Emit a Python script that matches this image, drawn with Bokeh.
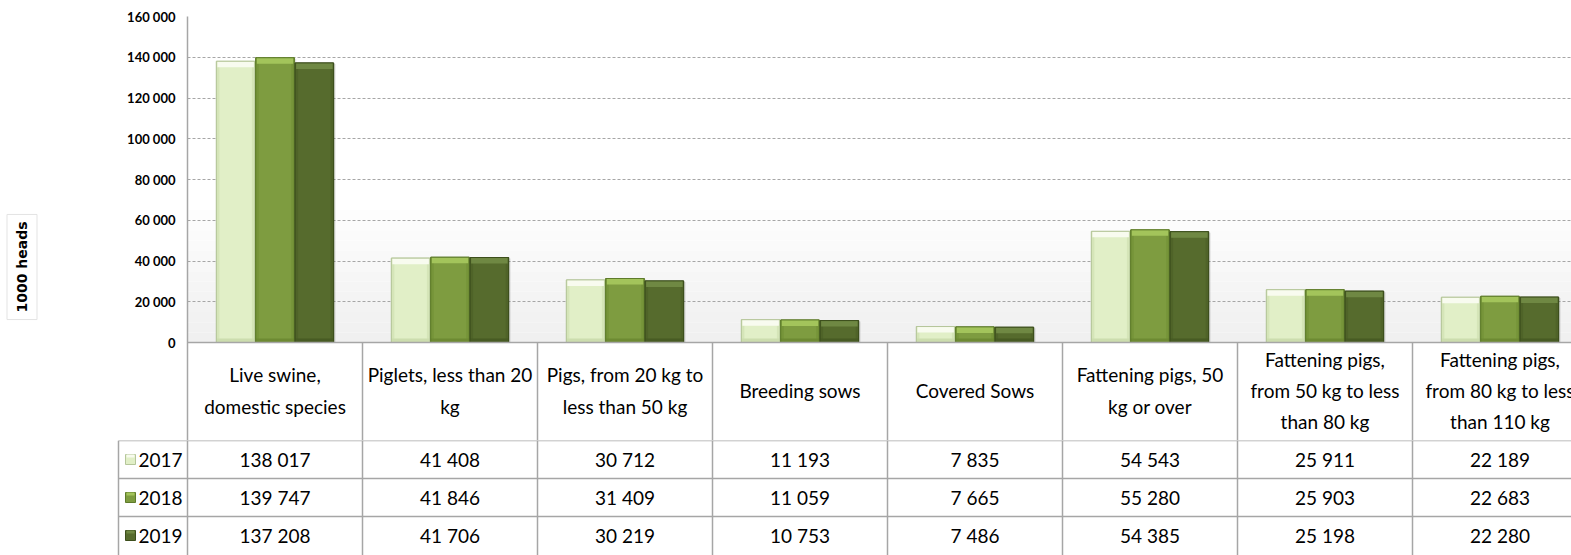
from math import pi
from bokeh.plotting import figure
from bokeh.layouts import column, row
from bokeh.models import FixedTicker, Range1d, Label, ColumnDataSource
from bokeh.core.properties import value
from bokeh.embed import file_html
from bokeh.resources import INLINE

# ---------------- data ----------------
categories = [
    "Live swine,\ndomestic species",
    "Piglets, less than 20\nkg",
    "Pigs, from 20 kg to\nless than 50 kg",
    "Breeding sows",
    "Covered Sows",
    "Fattening pigs, 50\nkg or over",
    "Fattening pigs,\nfrom 50 kg to less\nthan 80 kg",
    "Fattening pigs,\nfrom 80 kg to less\nthan 110 kg",
]
years = ["2017", "2018", "2019"]
v2017 = [138017, 41408, 30712, 11193, 7835, 54543, 25911, 22189]
v2018 = [139747, 41846, 31409, 11059, 7665, 55280, 25903, 22683]
v2019 = [137208, 41706, 30219, 10753, 7486, 54385, 25198, 22280]
y_ticks = [0, 20000, 40000, 60000, 80000, 100000, 120000, 140000, 160000]
y_axis_label = "1000 heads"

# ---------------- layout constants ----------------
FONT = "Lato"
TFS = "19px"
W_TOTAL = 1571
H_TOTAL = 555
W_LAB = 40
W_FIG = W_TOTAL - W_LAB
CAT_PX = 175.0
LEFT_PX = 187 - W_LAB
TOP_PX = 16
PLOT_PX = 326
HEADER_PX = 98
TABLE_PX = H_TOTAL - (TOP_PX + PLOT_PX + HEADER_PX)
ROW_PX = 38
YMAX = 160000
PX_Y = YMAX / PLOT_PX
PX_X = 1.0 / CAT_PX
X_END = (W_FIG - LEFT_PX) / CAT_PX
Y_START = -HEADER_PX * PX_Y
FRAME_BOTTOM = TOP_PX + PLOT_PX + HEADER_PX

GRID = "#a6a6a6"
styles = [
    # main, top, sides, bottom, edge
    ("#E1EFC7", "#F8FBEF", "#D5E5B8", "#CCDDAE", "#B5C69A"),
    ("#7E9C40", "#A3C45B", "#769439", "#6D8A32", "#5E7B2A"),
    ("#566B2D", "#6F8843", "#4F6328", "#475B23", "#3C4E1C"),
]
offsets = [-0.225, 0.0, 0.225]
BAR_W = 0.22
n = len(categories)

def fmt(v):
    return f"{v:,}".replace(",", " ")

# ---------------- left strip with the y-axis title ----------------
lab = figure(width=W_LAB, height=H_TOTAL, x_range=Range1d(0, W_LAB),
             y_range=Range1d(0, H_TOTAL), output_backend="svg", toolbar_location=None,
             x_axis_location=None, y_axis_location=None, outline_line_color=None,
             min_border_left=0, min_border_right=0, min_border_top=0, min_border_bottom=0,
             background_fill_color="white", border_fill_color="white", frame_align=False)
lab.grid.visible = False
lab.add_layout(Label(x=23.5, y=H_TOTAL - 268.5, text=y_axis_label, angle=pi / 2,
                     text_align="center", text_baseline="middle",
                     text_font="DejaVu Sans", text_font_style="bold",
                     text_font_size="14px", text_alpha=0.0,
                     background_fill_color="#b0b0b0", background_fill_alpha=0.45,
                     padding=7))
lab.add_layout(Label(x=21.5, y=H_TOTAL - 266.5, text=y_axis_label, angle=pi / 2,
                     text_align="center", text_baseline="middle",
                     text_font="DejaVu Sans", text_font_style="bold",
                     text_font_size="14px", text_color="black",
                     background_fill_color="white", border_line_color="#e3e3e3",
                     padding=7))

# ---------------- top figure: bars + header row ----------------
p = figure(width=W_FIG, height=FRAME_BOTTOM,
           x_range=Range1d(0, X_END), y_range=Range1d(Y_START, YMAX),
           output_backend="svg", toolbar_location=None,
           x_axis_location=None, outline_line_color=None,
           min_border_left=LEFT_PX, min_border_right=0,
           min_border_top=TOP_PX, min_border_bottom=0,
           background_fill_color="white", border_fill_color="white",
           frame_align=False)

bands = 14
for k in range(bands):
    b0 = k * 5000
    tt = k / (bands - 1)
    c = int(240 + 15 * tt)
    p.quad(left=0, right=X_END, bottom=b0, top=b0 + 5000,
           fill_color=f"#{c:02x}{c:02x}{c:02x}", line_color=None, level="image")

p.ygrid.ticker = FixedTicker(ticks=y_ticks[1:])
p.ygrid.grid_line_color = GRID
p.ygrid.grid_line_dash = "3 2"
p.ygrid.grid_line_width = 1
p.xgrid.visible = False

ax = p.yaxis[0]
ax.ticker = FixedTicker(ticks=y_ticks)
ax.major_label_overrides = {t: fmt(t) for t in y_ticks}
ax.major_label_text_font = FONT
ax.major_label_text_font_style = "bold"
ax.major_label_text_font_size = "13px"
ax.major_label_text_color = "black"
ax.major_tick_line_color = None
ax.minor_tick_line_color = None
ax.major_tick_out = 0
ax.major_label_standoff = 12
ax.axis_line_color = GRID
ax.axis_line_width = 1.5

for vals, off, (main, top, side, bot, edge) in zip([v2017, v2018, v2019], offsets, styles):
    xc = [i + 0.5 + off for i in range(n)]
    left = [x - BAR_W / 2 for x in xc]
    right = [x + BAR_W / 2 for x in xc]
    src = ColumnDataSource(dict(left=left, right=right, top=vals))
    p.quad(left=[l + 2 * PX_X for l in left], right=[r + 2 * PX_X for r in right],
           bottom=0, top=[v - 1 * PX_Y for v in vals],
           fill_color="black", fill_alpha=0.10, line_color=None)
    p.quad(left="left", right="right", bottom=0, top="top", source=src,
           fill_color=main, line_color=edge, line_width=1)
    p.quad(left=left, right=[l + 3 * PX_X for l in left], bottom=0, top=vals,
           fill_color=side, line_color=None)
    p.quad(left=[r - 3 * PX_X for r in right], right=right, bottom=0, top=vals,
           fill_color=side, line_color=None)
    p.quad(left=left, right=right, bottom=0, top=4 * PX_Y,
           fill_color=bot, line_color=None)
    p.quad(left=[l + 1 * PX_X for l in left], right=[r - 1 * PX_X for r in right],
           bottom=[v - 6 * PX_Y for v in vals], top=vals,
           fill_color=top, line_color=None)
    p.quad(left="left", right="right", bottom=0, top="top", source=src,
           fill_color=None, line_color=edge, line_width=1)

p.segment(x0=[0], y0=[0], x1=[X_END], y1=[0], line_color=GRID, line_width=1.5)
p.segment(x0=list(range(1, n + 1)), y0=[0] * n, x1=list(range(1, n + 1)),
          y1=[Y_START] * n, line_color=GRID, line_width=1.5)

p.text(x=[i + 0.5 for i in range(n)], y=[Y_START / 2 + 1 * PX_Y] * n, text=categories,
       text_font=value(FONT), text_font_size=TFS, text_align="center",
       text_baseline="middle", text_line_height=1.35, text_color="black")

# ---------------- table figure ----------------
t = figure(width=W_FIG, height=TABLE_PX,
           x_range=Range1d(-LEFT_PX / CAT_PX, X_END),
           y_range=Range1d(3 - TABLE_PX / ROW_PX, 3),
           output_backend="svg", toolbar_location=None,
           x_axis_location=None, y_axis_location=None, outline_line_color=None,
           min_border_left=0, min_border_right=0, min_border_top=0, min_border_bottom=0,
           background_fill_color="white", border_fill_color="white",
           frame_align=False)
t.grid.visible = False

XL = (118 - 187) * PX_X
t.segment(x0=[XL] * 3, y0=[3, 2, 1], x1=[X_END] * 3, y1=[3, 2, 1],
          line_color=GRID, line_width=1.5)
vx = [XL] + list(range(0, n + 1))
t.segment(x0=vx, y0=[3 - TABLE_PX / ROW_PX] * len(vx), x1=vx, y1=[3] * len(vx),
          line_color=GRID, line_width=1.5)

for r, (yr, vals, (main, top, side, bot, edge)) in enumerate(zip(years, [v2017, v2018, v2019], styles)):
    yc = 2.5 - r
    t.text(x=[i + 0.5 for i in range(n)], y=[yc] * n, text=[fmt(v) for v in vals],
           text_font=value(FONT), text_font_size=TFS, text_align="center",
           text_baseline="middle", text_color="black")
    t.text(x=[(138 - 187) * PX_X], y=[yc], text=[yr],
           text_font=value(FONT), text_font_size=TFS, text_align="left",
           text_baseline="middle", text_color="black")
    kh = 10 / ROW_PX / 2
    t.quad(left=[(125 - 187) * PX_X], right=[(135 - 187) * PX_X],
           bottom=[yc - kh], top=[yc + kh], fill_color=main, line_color=edge, line_width=1)
    t.quad(left=[(126 - 187) * PX_X], right=[(134 - 187) * PX_X],
           bottom=[yc + kh * 0.4], top=[yc + kh], fill_color=top, line_color=None)

layout = row(lab, column(p, t, spacing=0), spacing=0)
open("out.html", "w").write(file_html(layout, INLINE))
